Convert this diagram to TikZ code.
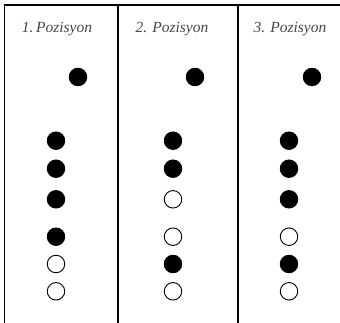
\documentclass[tikz,border=0pt]{standalone}
\usepackage{fontspec}
\setmainfont{Liberation Serif}
\begin{document}
\begin{tikzpicture}[x=1pt,y=-1pt,
  frame/.style={line width=1.5pt,black},
  full/.style={circle,fill=black,draw=black,line width=0.9pt,minimum size=17.5pt,inner sep=0pt},
  empty/.style={circle,fill=white,draw=black,line width=0.9pt,minimum size=17.5pt,inner sep=0pt},
  title/.style={font=\fontsize{15.5}{17}\selectfont\itshape,text=black!72,inner sep=0pt,anchor=base}]
\useasboundingbox (0,0) rectangle (340,323);
\fill[white] (0,0) rectangle (340,323);
\coordinate (tl) at (4.5,5);
\coordinate (tr) at (340,5);
\coordinate (bl) at (4.5,323);
\coordinate (v1t) at (118,5);
\coordinate (v1b) at (118,323);
\coordinate (v2t) at (238,5);
\coordinate (v2b) at (238,323);
\draw[frame] (bl) -- (tl) -- (tr);
\draw[frame] (v1t) -- (v1b);
\draw[frame] (v2t) -- (v2b);
\node[title] (t1) at (57,33) {1.\,Pozisyon};
\node[title] (t2) at (172,33) {2. Pozisyon};
\node[title] (t3) at (290,33) {3. Pozisyon};
% column 1
\node[full] (a0) at (78,77) {};
\node[full] (a1) at (56,140.7) {};
\node[full] (a2) at (56,168.7) {};
\node[full] (a3) at (56,199.3) {};
\node[full] (a4) at (56,236.7) {};
\node[empty] (a5) at (56,264) {};
\node[empty] (a6) at (56,291.3) {};
% column 2
\node[full] (b0) at (195,77) {};
\node[full] (b1) at (173,140.7) {};
\node[full] (b2) at (173,168.7) {};
\node[empty] (b3) at (173,199.3) {};
\node[empty] (b4) at (173,236.7) {};
\node[full] (b5) at (173,264) {};
\node[empty] (b6) at (173,291.3) {};
% column 3
\node[full] (c0) at (312,77) {};
\node[full] (c1) at (289,140.7) {};
\node[full] (c2) at (289,168.7) {};
\node[full] (c3) at (289,199.3) {};
\node[empty] (c4) at (289,236.7) {};
\node[full] (c5) at (289,264) {};
\node[empty] (c6) at (289,291.3) {};
\end{tikzpicture}
\end{document}
